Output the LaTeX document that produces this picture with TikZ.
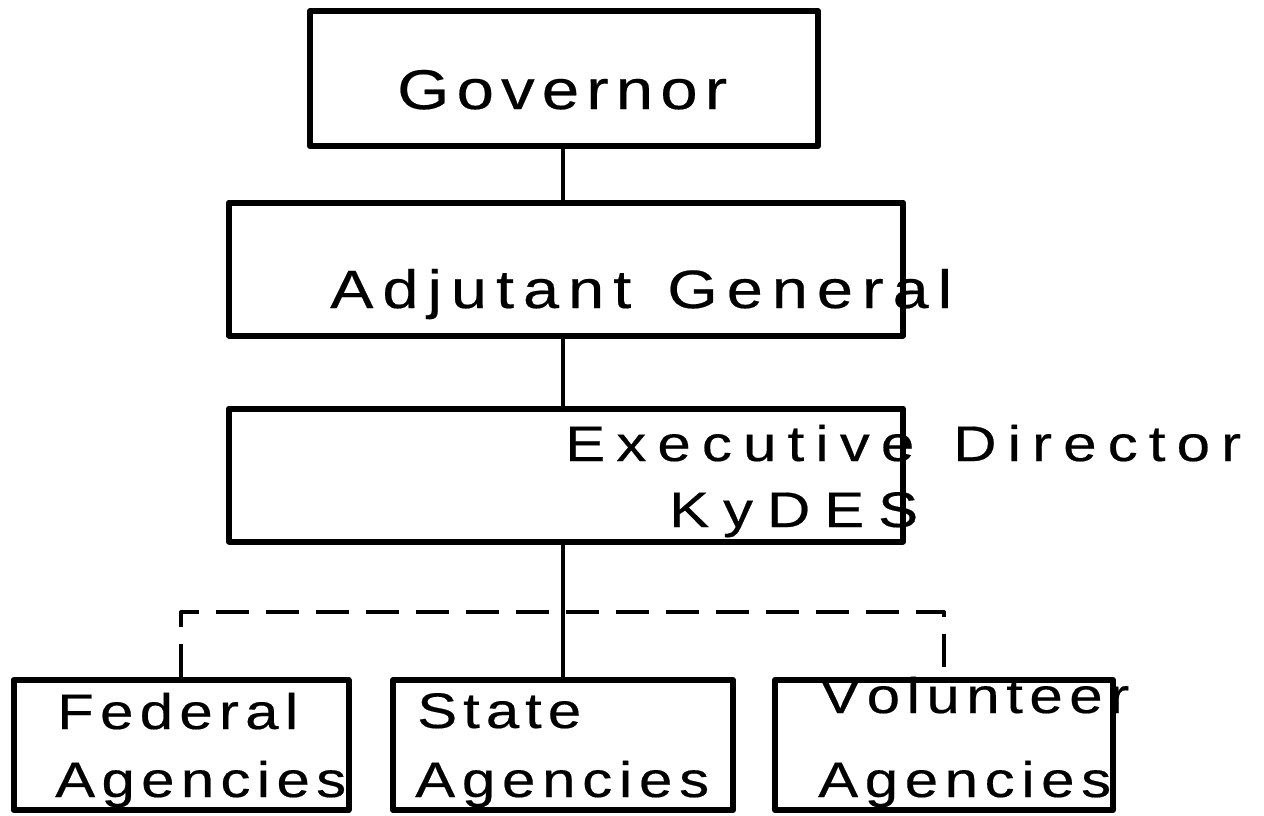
\documentclass[tikz,border=0pt]{standalone}
\usepackage{fontspec}
\usepackage{graphicx}
\setmainfont{Liberation Sans}
\newfontfamily\labfont[FakeBold=0.35]{Liberation Sans}
\def\sprA#1{#1\sprB}
\def\sprB#1{\ifx#1\relax\else\hfill#1\expandafter\sprB\fi}
\newcommand\spr[2]{\scalebox{1.2}[1]{\hbox to \dimexpr #1pt*5/6\relax{\sprA#2\relax}}}
\tikzset{
  box/.style={draw, line width=6pt, line join=round, inner sep=0pt},
  txt/.style={inner sep=0pt, anchor=base west},
  big/.style={font=\labfont\fontsize{56}{56}\selectfont},
  mid/.style={font=\labfont\fontsize{54}{54}\selectfont},
  sml/.style={font=\labfont\fontsize{50}{50}\selectfont},
  conn/.style={line width=3.5pt},
  dconn/.style={line width=4pt, dash pattern=on 33pt off 17pt, line join=round}
}
\begin{document}
\begin{tikzpicture}[x=1pt,y=-1pt]
\fill[white] (0,0) rectangle (1264,815);
\useasboundingbox (0,0) rectangle (1264,815);
% texts
\node[txt,big] (tgov) at (397,109) {\spr{330}{Governor}};
\node[txt,mid] (tadj) at (330,308) {\spr{622}{Adjutant~General}};
\node[txt,sml] (texe1) at (565,461) {\spr{676}{Executive~Director}};
\node[txt,sml] (texe2) at (669,527) {\spr{249}{KyDES}};
\node[txt,sml] (tfed1) at (57,729) {\spr{241}{Federal}};
\node[txt,sml] (tfed2) at (55,797) {\spr{291}{Agencies}};
\node[txt,sml] (tsta1) at (417,728) {\spr{164}{State}};
\node[txt,sml] (tsta2) at (415,797) {\spr{294}{Agencies}};
\node[txt,sml] (tvol1) at (820,713) {\spr{309}{Volunteer}};
\node[txt,sml] (tvol2) at (818,797) {\spr{293}{Agencies}};
% boxes
\node[box, minimum width=508pt, minimum height=135pt] (gov) at (564,78.5) {};
\node[box, minimum width=674pt, minimum height=133pt] (adj) at (566,269) {};
\node[box, minimum width=674pt, minimum height=133pt] (exe) at (566,475) {};
\node[box, minimum width=335pt, minimum height=130pt] (fed) at (181,745) {};
\node[box, minimum width=340pt, minimum height=130pt] (sta) at (563,745) {};
\node[box, minimum width=338pt, minimum height=130pt] (vol) at (944,745) {};
% connectors
\coordinate (spine) at (563,612);
\draw[conn] (gov.south -| spine) -- (adj.north -| spine);
\draw[conn] (adj.south -| spine) -- (exe.north -| spine);
\draw[conn] (exe.south -| spine) -- (sta.north);
\draw[dconn] (fed.north) -- (fed.north |- spine) -- (vol.north |- spine) -- (vol.north);
\end{tikzpicture}
\end{document}
